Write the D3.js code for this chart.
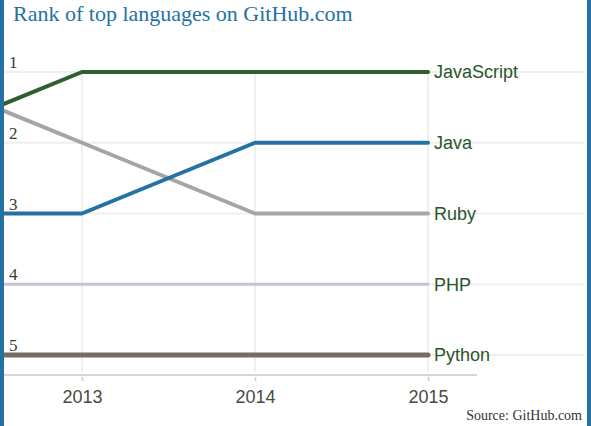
<!DOCTYPE html>
<html><head><meta charset="utf-8">
<script src="https://cdn.jsdelivr.net/npm/d3@7"></script>
<style>body{margin:0;background:#fff}svg{display:block}</style>
</head><body>
<script>
const years = [2012, 2013, 2014, 2015];
const tickYears = [2013, 2014, 2015];
const rankTicks = [1, 2, 3, 4, 5];
const languages = ["JavaScript", "Java", "Ruby", "PHP", "Python"];
const jsRanks = [2, 1, 1, 1];
const javaRanks = [3, 3, 2, 2];
const rubyRanks = [1, 2, 3, 3];
const phpRanks = [4, 4, 4, 4];
const pythonRanks = [5, 5, 5, 5];
const colors = ["#2f5f2f", "#2471a3", "#a8a3a9", "#c6c4d2", "#786c62"];
const widths = [4, 4, 4, 3, 5];
const series = [jsRanks, javaRanks, rubyRanks, phpRanks, pythonRanks];

const W = 591, H = 426;
const svg = d3.select("body").append("svg").attr("width", W).attr("height", H);
const x = d3.scaleLinear().domain([2013, 2015]).range([82, 428]);
const y = d3.scaleLinear().domain([1, 5]).range([72, 355]);

// horizontal gridlines
svg.append("g").selectAll("line").data(rankTicks).join("line")
  .attr("x1", 4).attr("x2", 584).attr("y1", d => y(d)).attr("y2", d => y(d))
  .attr("stroke", "#efefef").attr("stroke-width", 2);
// vertical gridlines
svg.append("g").selectAll("line").data(tickYears).join("line")
  .attr("x1", d => x(d)).attr("x2", d => x(d)).attr("y1", y(1) - 2).attr("y2", 372)
  .attr("stroke", "#efefef").attr("stroke-width", 2);

// x axis
const xAxis = d3.axisBottom(x).tickValues(tickYears).tickFormat(d3.format("d")).tickSize(6).tickPadding(6);
const ax = svg.append("g").attr("transform", "translate(0,375)").call(xAxis);
ax.select(".domain").remove();
ax.append("line").attr("x1", 4).attr("x2", 477).attr("y1", 0).attr("y2", 0).attr("stroke", "#c9c8d6").attr("stroke-width", 1.5);
ax.selectAll(".tick line").attr("stroke", "#c9c8d6").attr("stroke-width", 1.5).attr("y1", 2);
ax.selectAll(".tick text").attr("font-family", "Arial, 'Liberation Sans', sans-serif").attr("font-size", 18)
  .attr("fill", "#454c45").attr("y", 15).attr("dy", "0.71em");

// rank labels
svg.append("g").selectAll("text").data(rankTicks).join("text")
  .attr("x", 9).attr("y", d => y(d) - 4)
  .attr("font-family", "'Liberation Serif', 'Times New Roman', serif").attr("font-size", 17)
  .attr("fill", "#2f402f").text(d => d);

// lines
const line = d3.line().x((d, i) => x(years[i])).y(d => y(d));
const order = [4, 3, 2, 1, 0];
svg.append("g").selectAll("path").data(order).join("path")
  .attr("d", i => line(series[i]))
  .attr("fill", "none").attr("stroke", i => colors[i]).attr("stroke-width", i => widths[i])
  .attr("stroke-linejoin", "round").attr("stroke-linecap", "round");

// end labels
svg.append("g").selectAll("text").data(languages).join("text")
  .attr("x", 434).attr("y", (d, i) => y(series[i][series[i].length - 1]))
  .attr("dy", "0.35em")
  .attr("font-family", "Arial, 'Liberation Sans', sans-serif").attr("font-size", 18)
  .attr("fill", "#2a552a").text(d => d);

// title
svg.append("text").attr("x", 13).attr("y", 21)
  .attr("font-family", "'Liberation Serif', 'Times New Roman', serif").attr("font-size", 22)
  .attr("fill", "#2471a3").text("Rank of top languages on GitHub.com");

// source
svg.append("text").attr("x", 582).attr("y", 420).attr("text-anchor", "end")
  .attr("font-family", "'Liberation Serif', 'Times New Roman', serif").attr("font-size", 14)
  .attr("fill", "#333").text("Source: GitHub.com");

// side bars
svg.append("rect").attr("x", 0).attr("y", 0).attr("width", 4).attr("height", H).attr("fill", "#2471a3");
svg.append("rect").attr("x", 587).attr("y", 0).attr("width", 4).attr("height", H).attr("fill", "#2471a3");
</script>
</body></html>
